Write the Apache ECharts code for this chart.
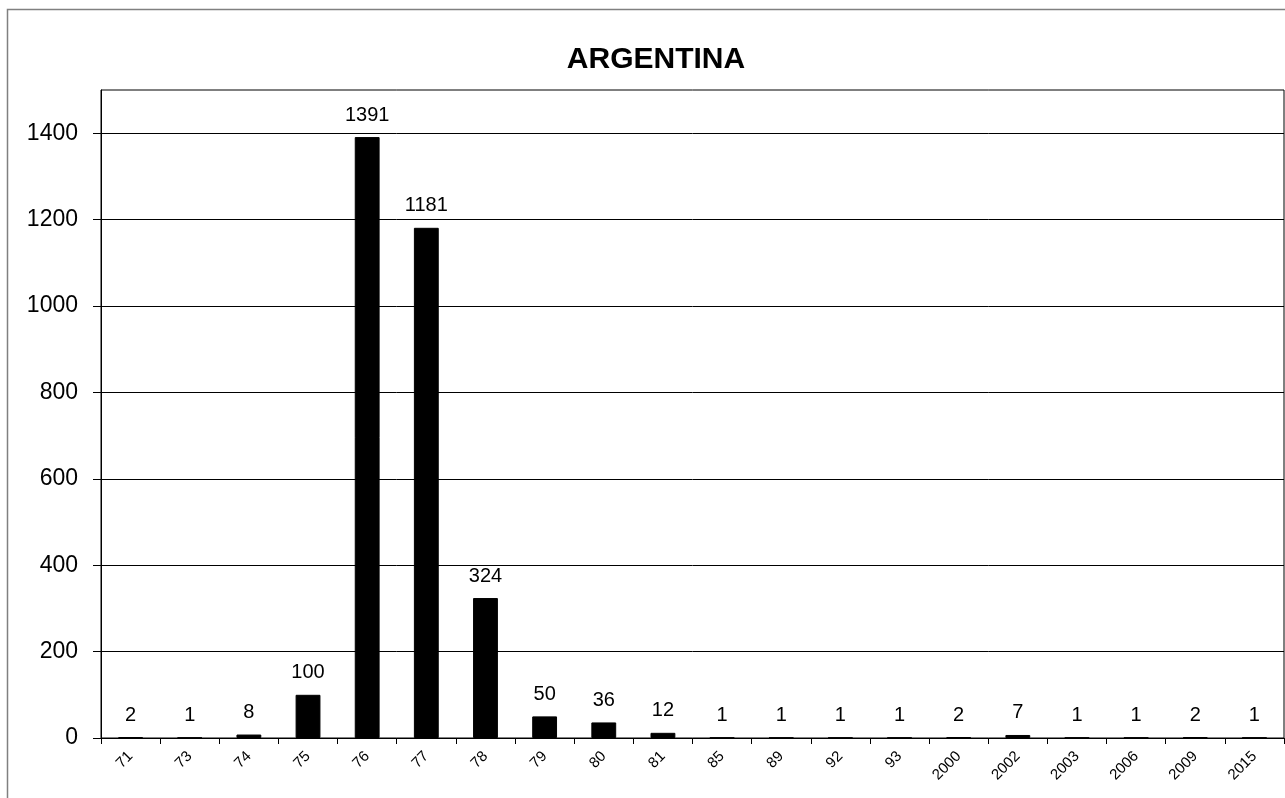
<!DOCTYPE html>
<html><head><meta charset="utf-8">
<script src="https://cdn.jsdelivr.net/npm/echarts@6/dist/echarts.min.js"></script>
<style>html,body{margin:0;padding:0;background:#fff}#c{width:1285px;height:798px}</style>
</head><body><div id="c"></div>
<script>
const titleText = 'ARGENTINA';
const categories = ['71','73','74','75','76','77','78','79','80','81','85','89','92','93','2000','2002','2003','2006','2009','2015'];
const values = [2,1,8,100,1391,1181,324,50,36,12,1,1,1,1,2,7,1,1,2,1];
const yTickValues = [0,200,400,600,800,1000,1200,1400];
const yMin = 0, yMax = 1500, yInterval = 100;

const chart = echarts.init(document.getElementById('c'), null, {renderer:'canvas'});
const font = 'Liberation Sans, Arial, sans-serif';
chart.setOption({
  animation:false,
  backgroundColor:'#fff',
  title:{text:titleText,left:651,top:40,textAlign:'center',textStyle:{fontFamily:font,fontSize:30,fontWeight:'bold',color:'#000'}},
  graphic:[{type:'rect',shape:{x:7.5,y:9.5,width:1300,height:900},style:{fill:null,stroke:'#808080',lineWidth:1.5},silent:true}],
  grid:{left:101,right:1,top:90,bottom:60,show:true,borderColor:'#000',borderWidth:1,backgroundColor:'transparent'},
  xAxis:{type:'category',data:categories,
    axisLine:{lineStyle:{color:'#000',width:1}},
    axisTick:{show:true,alignWithLabel:false,length:6,lineStyle:{color:'#000'}},
    axisLabel:{rotate:45,fontFamily:font,fontSize:15,color:'#000',margin:16,interval:0}},
  yAxis:{type:'value',min:yMin,max:yMax,interval:yInterval,
    axisLine:{show:true,lineStyle:{color:'#000'}},
    axisTick:{show:true,length:8,lineStyle:{color:'#000'},customValues:yTickValues},
    axisLabel:{fontFamily:font,fontSize:23,color:'#000',margin:23,customValues:yTickValues,formatter:v=>String(v)},
    splitLine:{show:false}},
  series:[{type:'bar',data:values,barWidth:'42%',
    itemStyle:{color:'#000',borderColor:'#000',borderWidth:1},
    label:{show:true,position:'top',distance:12,fontFamily:font,fontSize:20,color:'#000'},
    markLine:{silent:true,symbol:'none',label:{show:false},lineStyle:{color:'#000',width:1,type:'solid'},
      data:yTickValues.slice(1).map(v=>({yAxis:v}))}}]
});
</script></body></html>
